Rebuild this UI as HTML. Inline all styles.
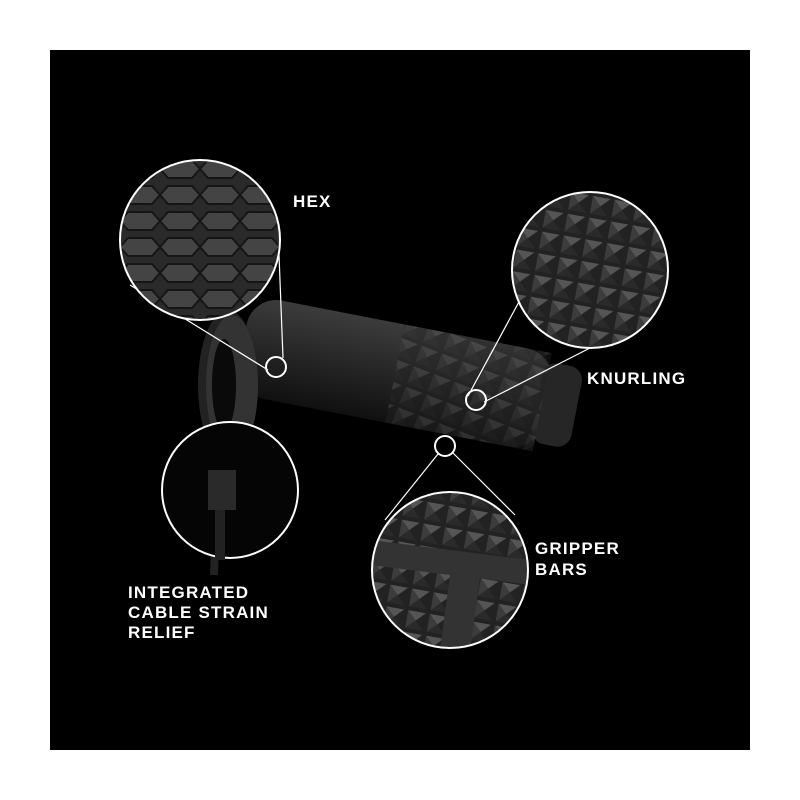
<!DOCTYPE html>
<html><head><meta charset="utf-8"><style>
html,body{margin:0;padding:0;background:#fff;}
svg{display:block}
text{font-family:"Liberation Sans",sans-serif;font-weight:bold;fill:#fff;font-size:17px;letter-spacing:1.2px}
</style></head><body>
<svg width="800" height="800" viewBox="0 0 800 800">
<defs>
<linearGradient id="body" x1="0" y1="0" x2="0" y2="1"><stop offset="0" stop-color="#3c3c3c"/><stop offset="0.5" stop-color="#262626"/><stop offset="1" stop-color="#101010"/></linearGradient>
<pattern id="hex" width="40" height="26" patternUnits="userSpaceOnUse"><rect width="40" height="26" fill="#2a2a2a"/><path d="M0 13 L8 4 L32 4 L40 13 L32 22 L8 22Z" fill="#444" stroke="#151515" stroke-width="2"/></pattern>
<pattern id="knurl" width="22" height="22" patternUnits="userSpaceOnUse" patternTransform="rotate(10)"><rect width="22" height="22" fill="#222"/><path d="M2 2 L20 2 L11 11Z" fill="#555"/><path d="M2 20 L20 20 L11 11Z" fill="#2a2a2a"/><path d="M2 2 L2 20 L11 11Z" fill="#3c3c3c"/></pattern>
<clipPath id="c1"><circle cx="200" cy="240" r="80"/></clipPath>
<clipPath id="c2"><circle cx="590" cy="270" r="78"/></clipPath>
<clipPath id="c3"><circle cx="450" cy="570" r="78"/></clipPath>
</defs>
<rect x="50" y="50" width="700" height="700" fill="#000"/>
<g transform="rotate(11 400 400)">
<rect x="235" y="325" width="310" height="100" rx="30" fill="url(#body)"/>
<rect x="535" y="334" width="40" height="82" rx="14" fill="#262626"/>
<rect x="390" y="325" width="150" height="100" fill="url(#knurl)" opacity="0.45"/>
</g>
<ellipse cx="228" cy="385" rx="30" ry="75" fill="#222"/>
<ellipse cx="232" cy="385" rx="26" ry="70" fill="#333"/>
<ellipse cx="224" cy="385" rx="12" ry="46" fill="#0a0a0a"/>
<path d="M212 445 L216 520 L214 575" stroke="#222" stroke-width="8" fill="none"/>
<g stroke="#fff" stroke-width="1.2" fill="none">
<line x1="130" y1="285" x2="268" y2="370"/>
<line x1="279" y1="255" x2="283" y2="358"/>
<line x1="520" y1="300" x2="468" y2="396"/>
<line x1="590" y1="348" x2="484" y2="402"/>
<line x1="438" y1="454" x2="385" y2="520"/>
<line x1="453" y1="453" x2="515" y2="515"/>
</g>
<g clip-path="url(#c1)"><rect x="110" y="150" width="180" height="180" fill="url(#hex)"/></g>
<circle cx="200" cy="240" r="80" fill="none" stroke="#fff" stroke-width="2"/>
<g clip-path="url(#c2)"><rect x="500" y="180" width="180" height="180" fill="url(#knurl)"/></g>
<circle cx="590" cy="270" r="78" fill="none" stroke="#fff" stroke-width="2"/>
<circle cx="230" cy="490" r="68" fill="#050505" stroke="#fff" stroke-width="2"/>
<rect x="208" y="470" width="28" height="40" fill="#2a2a2a"/>
<rect x="215" y="510" width="10" height="50" fill="#222"/>
<g clip-path="url(#c3)"><rect x="370" y="490" width="160" height="160" fill="url(#knurl)"/><path d="M370 540 L530 560 L530 585 L480 578 L470 650 L440 650 L450 575 L370 565Z" fill="#333"/></g>
<circle cx="450" cy="570" r="78" fill="none" stroke="#fff" stroke-width="2"/>
<g fill="none" stroke="#fff" stroke-width="2">
<circle cx="276" cy="367" r="10"/>
<circle cx="476" cy="400" r="10"/>
<circle cx="445" cy="446" r="10"/>
</g>
<text x="293" y="207">HEX</text>
<text x="587" y="384">KNURLING</text>
<text x="535" y="554">GRIPPER</text>
<text x="535" y="575">BARS</text>
<text x="128" y="598">INTEGRATED</text>
<text x="128" y="618">CABLE STRAIN</text>
<text x="128" y="638">RELIEF</text>
</svg>
</body></html>
